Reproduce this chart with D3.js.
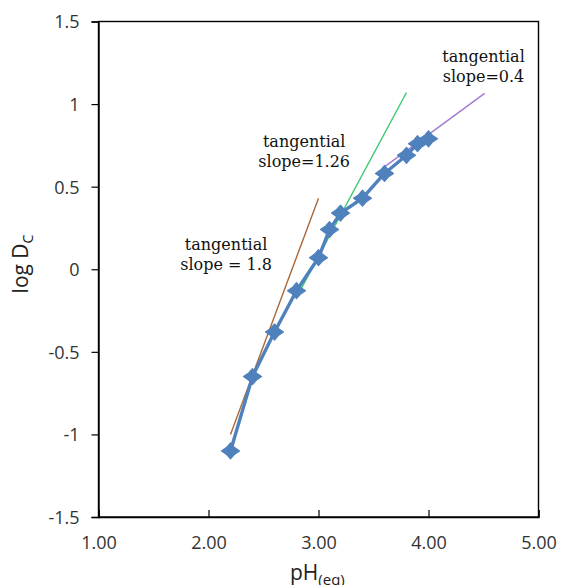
<!DOCTYPE html>
<html><head><meta charset="utf-8">
<script src="https://cdn.jsdelivr.net/npm/d3@7"></script>
<style>body{margin:0;background:#fff}</style>
</head><body>
<svg id="c" width="561" height="585"></svg>
<script>
const pH = [2.2, 2.4, 2.6, 2.8, 3.0, 3.1, 3.2, 3.4, 3.6, 3.8, 3.9, 4.0];
const logDc = [-1.1, -0.65, -0.38, -0.13, 0.07, 0.24, 0.34, 0.43, 0.58, 0.69, 0.76, 0.79];
const tangent1 = [[2.2, -1.0], [3.0, 0.43]];
const tangent2 = [[2.8, -0.17], [3.8, 1.07]];
const tangent3 = [[3.6, 0.62], [4.51, 1.065]];
const xTicks = [1, 2, 3, 4, 5];
const yTicks = [-1.5, -1, -0.5, 0, 0.5, 1, 1.5];
const notes = [
  {x: 4.50, y: 1.255, lines: ["tangential", "slope=0.4"]},
  {x: 2.87, y: 0.74, lines: ["tangential", "slope=1.26"]},
  {x: 2.16, y: 0.117, lines: ["tangential", "slope = 1.8"]}
];

const svg = d3.select("#c");
const L = 98.5, R = 538.5, T = 21.5, B = 517;
const x = d3.scaleLinear().domain([1, 5]).range([L, R]);
const y = d3.scaleLinear().domain([-1.5, 1.5]).range([B, T]);
const sans = "Open Sans, sans-serif";

// frame
svg.append("rect").attr("x", L).attr("y", T).attr("width", R - L).attr("height", B - T)
  .attr("fill", "none").attr("stroke", "#000").attr("stroke-width", 1.4);

// y axis
const ya = svg.append("g").attr("transform", `translate(${L},0)`)
  .call(d3.axisLeft(y).tickValues(yTicks).tickSize(7).tickPadding(12).tickFormat(d => String(d)));
ya.select(".domain").attr("stroke", "#000").attr("stroke-width", 1.4);
ya.selectAll("line").attr("stroke", "#000").attr("stroke-width", 1.2);
ya.selectAll("text").attr("font-family", sans).attr("font-size", 18).attr("fill", "#333").attr("dy", "0.36em");

// x axis
const xa = svg.append("g").attr("transform", `translate(0,${B})`)
  .call(d3.axisBottom(x).tickValues(xTicks).tickSize(-7).tickPadding(19).tickFormat(d => d.toFixed(2)));
xa.select(".domain").attr("stroke", "#000").attr("stroke-width", 1.4);
xa.selectAll("line").attr("stroke", "#000").attr("stroke-width", 1.2);
xa.selectAll("text").attr("font-family", sans).attr("font-size", 18).attr("fill", "#333");

// axis titles
const xt = svg.append("text").attr("x", 290).attr("y", 580).attr("text-anchor", "start")
  .attr("font-family", sans).attr("font-size", 21).attr("fill", "#222");
xt.append("tspan").text("pH");
xt.append("tspan").attr("dy", 5).attr("font-size", 15).text("(eq)");

const yt = svg.append("text").attr("transform", "translate(28,264) rotate(-90)").attr("text-anchor", "middle")
  .attr("font-family", sans).attr("font-size", 21).attr("fill", "#222");
yt.append("tspan").text("log D");
yt.append("tspan").attr("dy", 5).attr("font-size", 14).text("C");

// tangent lines
const line = d3.line().x(d => x(d[0])).y(d => y(d[1]));
[[tangent1, "#A8683A"], [tangent2, "#3CC870"], [tangent3, "#A27AD0"]].forEach(([d, c]) => {
  svg.append("path").attr("d", line(d)).attr("fill", "none").attr("stroke", c).attr("stroke-width", 1.4);
});

// data line
const pts = pH.map((v, i) => [v, logDc[i]]);
svg.append("path").attr("d", line(pts)).attr("fill", "none").attr("stroke", "#4F81BD").attr("stroke-width", 3.4)
  .attr("stroke-linejoin", "round");

// markers
const marker = "M0,-8 L3.8,-3.6 L9,0 L3.8,3.6 L0,8 L-3.8,3.6 L-9,0 L-3.8,-3.6 Z";
svg.selectAll(".m").data(pts).enter().append("path")
  .attr("transform", d => `translate(${x(d[0])},${y(d[1])})`)
  .attr("d", marker).attr("fill", "#4F81BD").attr("stroke", "#4F81BD").attr("stroke-width", 1.2).attr("stroke-linejoin", "round");

// annotations
notes.forEach(n => {
  const t = svg.append("text").attr("text-anchor", "middle")
    .attr("font-family", "DejaVu Serif, Liberation Serif, serif").attr("font-size", 16).attr("fill", "#111");
  n.lines.forEach((s, i) => {
    t.append("tspan").attr("x", x(n.x)).attr("y", y(n.y) + i * 20).text(s);
  });
});
</script>
</body></html>
